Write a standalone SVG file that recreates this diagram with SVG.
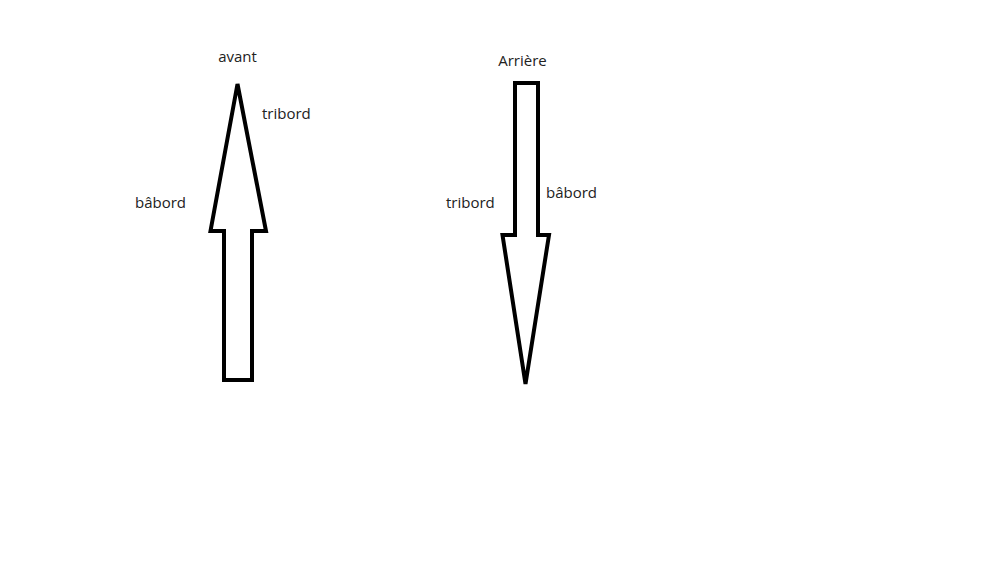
<svg xmlns="http://www.w3.org/2000/svg" width="1000" height="563" viewBox="0 0 1000 563">
<style>
.arrow{fill:#fff;stroke:#000;stroke-width:4;stroke-linejoin:miter}
.lbl{font-family:"Open Sans","Noto Sans",sans-serif;font-size:15px;fill:#222}
</style>
<rect width="1000" height="563" fill="#fff"/>
<g id="arrow-up">
<polygon class="arrow" points="237.5,84 266,231 252,231 252,380 224,380 224,231 210.5,231"/>
</g>
<g id="arrow-down">
<polygon class="arrow" points="515,83 538,83 538,235 549,235 525.5,384 502.5,235 515,235"/>
</g>
<g id="labels">
<text class="lbl" x="237.5" y="62" text-anchor="middle">avant</text>
<text class="lbl" x="262" y="119">tribord</text>
<text class="lbl" x="135" y="208">bâbord</text>
<text class="lbl" x="522.5" y="66" text-anchor="middle">Arrière</text>
<text class="lbl" x="446" y="208">tribord</text>
<text class="lbl" x="546" y="198">bâbord</text>
</g>
<g id="connectors"></g>
</svg>
